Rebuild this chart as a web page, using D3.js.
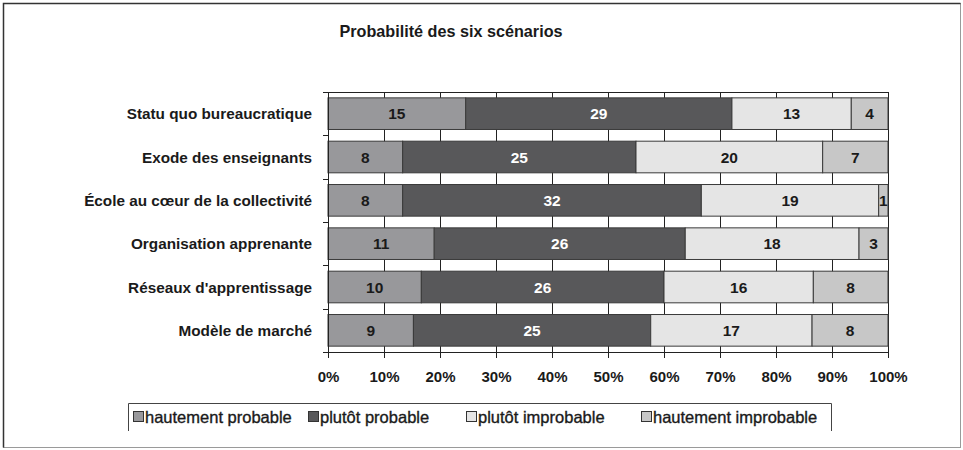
<!DOCTYPE html>
<html><head><meta charset="utf-8">
<script src="https://cdn.jsdelivr.net/npm/d3@7"></script>
<style>
html,body{margin:0;padding:0;background:#fff;}
svg{display:block;font-family:"Liberation Sans",Arial,sans-serif;}
</style></head>
<body><svg id="c" width="963" height="450"></svg>
<script>
const title = "Probabilité des six scénarios";
const categories = ["Statu quo bureaucratique","Exode des enseignants","École au cœur de la collectivité","Organisation apprenante","Réseaux d'apprentissage","Modèle de marché"];
const seriesNames = ["hautement probable","plutôt probable","plutôt improbable","hautement improbable"];
const hautementProbable = [15,8,8,11,10,9];
const plutotProbable = [29,25,32,26,26,25];
const plutotImprobable = [13,20,19,18,16,17];
const hautementImprobable = [4,7,1,3,8,8];
const tickValues = [0,0.1,0.2,0.3,0.4,0.5,0.6,0.7,0.8,0.9,1];
const colors = ["#98989b","#58585a","#e5e5e5","#c7c7c7"];
const labelColors = ["#1a1a1a","#ffffff","#1a1a1a","#1a1a1a"];

const series = [hautementProbable, plutotProbable, plutotImprobable, hautementImprobable];
const svg = d3.select("#c");

// outer frame
svg.append("rect").attr("x",3.5).attr("y",3.5).attr("width",957).attr("height",444)
  .attr("fill","none").attr("stroke","#9a9a9a").attr("stroke-width",1);
svg.append("path").attr("d","M3.5,447.5V3.5H960.5").attr("fill","none").attr("stroke","#333").attr("stroke-width",1.5);

const L=328, R=888, T=92, B=352;
const x = d3.scaleLinear().domain([0,1]).range([L,R]);
const y = d3.scaleBand().domain(categories).range([T,B]).paddingInner(0.27).paddingOuter(0.135);

// title
svg.append("text").attr("x",451).attr("y",37).attr("text-anchor","middle")
  .attr("font-size",16.2).attr("font-weight","bold").attr("fill","#1a1a1a").text(title);

// gridlines
svg.append("g").selectAll("line").data(tickValues.slice(1)).join("line")
  .attr("x1",d=>Math.round(x(d))+0.5).attr("x2",d=>Math.round(x(d))+0.5)
  .attr("y1",T).attr("y2",B).attr("stroke","#222").attr("stroke-width",1);
// plot border top/right
svg.append("path").attr("d",`M${L},${T+0.5}H${R+0.5}V${B}`).attr("fill","none").attr("stroke","#222");

// bars
const stacked = categories.map((c,i)=>{
  const vals = series.map(s=>s[i]);
  const tot = d3.sum(vals);
  let acc=0;
  return vals.map((v,k)=>{const s0=acc/tot; acc+=v; return {cat:c,k,v,x0:s0,x1:acc/tot};});
});
const gb = svg.append("g");
stacked.forEach(row=>{
  gb.selectAll(null).data(row).join("rect")
    .attr("x",d=>x(d.x0)).attr("y",d=>y(d.cat))
    .attr("width",d=>x(d.x1)-x(d.x0)).attr("height",y.bandwidth())
    .attr("fill",d=>colors[d.k]).attr("stroke","#3a3a3a").attr("stroke-width",1);
  gb.selectAll(null).data(row).join("text")
    .attr("x",d=>(x(d.x0)+x(d.x1))/2).attr("y",d=>y(d.cat)+y.bandwidth()/2)
    .attr("dy","0.36em").attr("text-anchor","middle")
    .attr("font-size",15.5).attr("font-weight","bold").attr("fill",d=>labelColors[d.k])
    .text(d=>d.v);
});

// x axis
const xa = svg.append("g").attr("transform",`translate(0,${B})`)
  .call(d3.axisBottom(x).tickValues(tickValues).tickFormat(d3.format(".0%")).tickSize(6).tickPadding(13));
xa.select(".domain").attr("stroke","#222");
xa.selectAll(".tick line").attr("stroke","#222");
xa.selectAll("text").attr("font-size",15).attr("font-weight","bold").attr("fill","#1a1a1a")
  .attr("font-family","Liberation Sans, Arial, sans-serif");

// y axis
svg.append("line").attr("x1",L+0.5).attr("x2",L+0.5).attr("y1",T).attr("y2",B+5).attr("stroke","#222");
const bounds = categories.map((c,i)=>T+ (i)*y.step()).concat([B]);
svg.append("g").selectAll("line").data(bounds).join("line")
  .attr("x1",L-5).attr("x2",L).attr("y1",d=>Math.round(d)+0.5).attr("y2",d=>Math.round(d)+0.5).attr("stroke","#222");
svg.append("g").selectAll("text").data(categories).join("text")
  .attr("x",312).attr("y",d=>y(d)+y.bandwidth()/2).attr("dy","0.36em").attr("text-anchor","end")
  .attr("font-size",15.3).attr("font-weight","bold").attr("fill","#1a1a1a").text(d=>d);

// legend
const lg = svg.append("g");
lg.append("path").attr("d","M128.5,431V403.5H831.5V431").attr("fill","none").attr("stroke","#444");
const legX = [133,308,466,641];
seriesNames.forEach((n,i)=>{
  lg.append("rect").attr("x",legX[i]+0.5).attr("y",411.5).attr("width",10).attr("height",10)
    .attr("fill",colors[i]).attr("stroke","#333");
  lg.append("text").attr("x",legX[i]+12).attr("y",417).attr("dy","0.36em")
    .attr("font-size",16.5).attr("fill","#1a1a1a").attr("stroke","#1a1a1a").attr("stroke-width",0.35)
    .text(n);
});
</script></body></html>
